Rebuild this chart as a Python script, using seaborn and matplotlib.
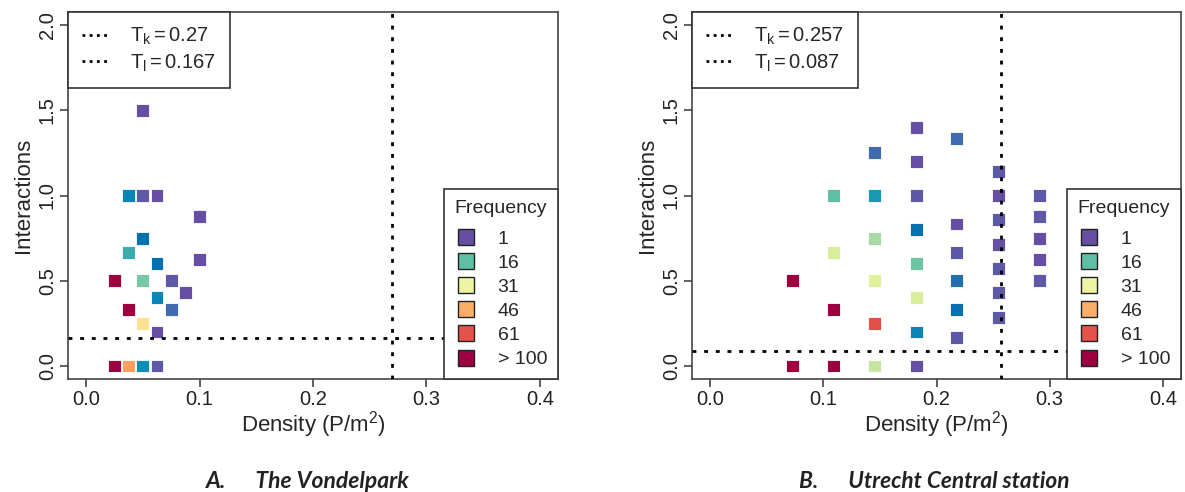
import numpy as np
import pandas as pd
import matplotlib
matplotlib.use("Agg")
import matplotlib.pyplot as plt
import seaborn as sns
from matplotlib.colors import LinearSegmentedColormap, to_rgb
from matplotlib.lines import Line2D

# ---------------- DATA ---------------- #
# A. Vondelpark
left_density = [0.05, 0.0375, 0.05, 0.0625, 0.1, 0.05, 0.0375, 0.0625, 0.1,
                0.025, 0.05, 0.075, 0.0875, 0.0625, 0.075, 0.0375, 0.05, 0.0625,
                0.025, 0.0375, 0.05, 0.0625]
left_interactions = [1.5, 1.0, 1.0, 1.0, 0.875, 0.75, 0.667, 0.6, 0.625,
                     0.5, 0.5, 0.5, 0.429, 0.4, 0.333, 0.333, 0.25, 0.2,
                     0.0, 0.0, 0.0, 0.0]
left_freq = [1, 10, 2, 1, 1, 8, 14, 8, 1,
             100, 18, 2, 1, 10, 4, 100, 38, 1,
             100, 48, 11, 2]
left_tk = 0.27
left_tl = 0.167

# B. Utrecht Central station
right_density = [0.073, 0.073,
                 0.109, 0.109, 0.109, 0.109,
                 0.145, 0.145, 0.145, 0.145, 0.145, 0.145,
                 0.182, 0.182, 0.182, 0.182, 0.182, 0.182, 0.182, 0.182,
                 0.218, 0.218, 0.218, 0.218, 0.218, 0.218,
                 0.255, 0.255, 0.255, 0.255, 0.255, 0.255, 0.255,
                 0.291, 0.291, 0.291, 0.291, 0.291]
right_interactions = [0.5, 0.0,
                      1.0, 0.667, 0.333, 0.0,
                      1.25, 1.0, 0.75, 0.5, 0.25, 0.0,
                      1.4, 1.2, 1.0, 0.8, 0.6, 0.4, 0.2, 0.0,
                      1.333, 0.833, 0.667, 0.5, 0.333, 0.167,
                      1.143, 1.0, 0.857, 0.714, 0.571, 0.429, 0.286,
                      1.0, 0.875, 0.75, 0.625, 0.5]
right_freq = [100, 100,
              16, 27, 100, 100,
              4, 12, 22, 28, 62, 25,
              1, 1, 2, 8, 17, 27, 10, 1,
              4, 1, 2, 6, 8, 2,
              2, 1, 2, 1, 2, 2, 2,
              2, 2, 1, 1, 2]
right_tk = 0.257
right_tl = 0.087

legend_values = [1, 16, 31, 46, 61, 100]
legend_labels = ["1", "16", "31", "46", "61", "> 100"]
captions = ["A.      The Vondelpark", "B.      Utrecht Central station"]

# ---------------- COLOURS ---------------- #
anchors = [(1, "#654ea3"), (2, "#5b5ca9"), (4, "#3a6db0"), (8, "#0570b0"),
           (11, "#0a90b8"), (16, "#62c1a3"), (22, "#a8dba4"), (28, "#e2f29c"),
           (33, "#f8f5a6"), (40, "#fed98a"), (48, "#fda05e"), (61, "#e4524a"),
           (100, "#9e0142")]
cmap = LinearSegmentedColormap.from_list(
    "freq", [((f - 1) / 99, to_rgb(c)) for f, c in anchors])

# ---------------- PLOT ---------------- #
sns.set_style("white")
plt.rcParams["font.family"] = ["Liberation Sans", "DejaVu Sans"]
plt.rcParams["mathtext.fontset"] = "custom"
plt.rcParams["mathtext.rm"] = "Liberation Sans"
plt.rcParams["mathtext.it"] = "Liberation Sans"

fig = plt.figure(figsize=(11.85, 4.92), dpi=100)
ax_l = fig.add_axes([68 / 1185, 1 - 379 / 492, 490 / 1185, 367 / 492])
ax_r = fig.add_axes([692 / 1185, 1 - 379 / 492, 489 / 1185, 367 / 492])

dotted = (0, (1.4, 2.8))

panels = [
    (ax_l, left_density, left_interactions, left_freq, left_tk, left_tl, "0.27", "0.167"),
    (ax_r, right_density, right_interactions, right_freq, right_tk, right_tl, "0.257", "0.087"),
]

for ax, dens, inter, freq, tk, tl, tk_txt, tl_txt in panels:
    df = pd.DataFrame({"Density": dens, "Interactions": inter, "Frequency": freq})
    sns.scatterplot(data=df, x="Density", y="Interactions", hue="Frequency",
                    palette=cmap, hue_norm=(1, 100), marker="s", s=85,
                    edgecolor="white", linewidth=0.6, legend=False, ax=ax, zorder=2)
    ax.axvline(tk, color="black", lw=2, linestyle=dotted, zorder=3)
    ax.axhline(tl, color="black", lw=2, linestyle=dotted, zorder=3)

    ax.set_xlim(-0.016, 0.416)
    ax.set_ylim(-0.076, 2.076)
    ax.set_xticks([0.0, 0.1, 0.2, 0.3, 0.4])
    ax.set_xticklabels(["0.0", "0.1", "0.2", "0.3", "0.4"])
    ax.set_yticks([0.0, 0.5, 1.0, 1.5, 2.0])
    ax.set_yticklabels(["0.0", "0.5", "1.0", "1.5", "2.0"], rotation=90, va="center")
    ax.tick_params(axis="both", direction="out", length=6, width=1.2,
                   color="#444444", labelsize=14.5, labelcolor="#222222",
                   bottom=True, left=True, pad=2)
    for sp in ax.spines.values():
        sp.set_color("#444444")
        sp.set_linewidth(1.2)
    ax.set_xlabel(r"Density (P/m$^\mathregular{2}$)", fontsize=16, labelpad=0)
    ax.set_ylabel("Interactions", fontsize=16, labelpad=3)

    # threshold legend
    t_handles = [Line2D([0], [0], color="black", lw=2, linestyle=(0, (1, 1.6))),
                 Line2D([0], [0], color="black", lw=2, linestyle=(0, (1, 1.6)))]
    t_labels = [r"$\mathregular{T_k = " + tk_txt + "}$",
                r"$\mathregular{T_l = " + tl_txt + "}$"]
    leg1 = ax.legend(t_handles, t_labels, loc="upper left", borderaxespad=0,
                     fontsize=14.5, frameon=True, fancybox=False, framealpha=1,
                     handlelength=1.4, handletextpad=1.0, labelspacing=0.25,
                     borderpad=0.7)
    leg1.get_frame().set_edgecolor("#333333")
    leg1.get_frame().set_linewidth(1.2)
    ax.add_artist(leg1)

    # frequency legend
    f_handles = [Line2D([0], [0], marker="s", linestyle="none", markersize=11,
                        markerfacecolor=cmap((v - 1) / 99), markeredgecolor="#222222",
                        markeredgewidth=1.0) for v in legend_values]
    leg2 = ax.legend(f_handles, legend_labels, title="Frequency", loc="lower right",
                     borderaxespad=0, fontsize=14, title_fontsize=14, frameon=True,
                     fancybox=False, framealpha=1, handlelength=1.2,
                     handletextpad=1.0, labelspacing=0.33, borderpad=0.55)
    leg2._legend_box.align = "left"
    leg2._legend_box.sep = 10
    leg2.get_frame().set_edgecolor("#333333")
    leg2.get_frame().set_linewidth(1.2)

fig.text(308 / 1185, 1 - 481 / 492, captions[0], ha="center", va="center",
         fontsize=16.5, fontweight="bold", fontstyle="italic", family="Lato", color="#222222")
fig.text(934 / 1185, 1 - 481 / 492, captions[1], ha="center", va="center",
         fontsize=16.3, fontweight="bold", fontstyle="italic", family="Lato", color="#222222")

plt.savefig("out.png", dpi=100)
